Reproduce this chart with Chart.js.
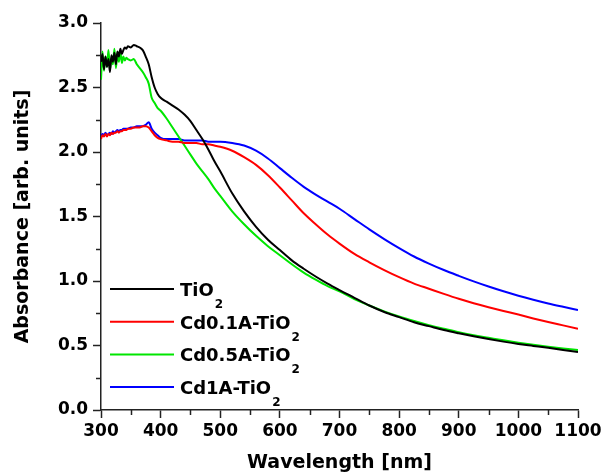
<!DOCTYPE html>
<html>
<head>
<meta charset="utf-8">
<script src="https://cdn.jsdelivr.net/npm/chart.js@4/dist/chart.umd.min.js"></script>
<style>
  html, body { margin: 0; padding: 0; background: #ffffff; }
  #wrap { width: 607px; height: 474px; }
</style>
</head>
<body>
<div id="wrap"><canvas id="c" width="607" height="474"></canvas></div>
<script>
// ---- data ----
const wavelengths = [300,302.5,305,307.5,310,312.5,315,317.5,320,322.5,325,327.5,330,332.5,335,337.5,340,342.5,345,
  350,355,360,365,370,375,380,385,390,395,400,
  410,420,430,440,450,460,470,480,490,500,
  520,540,560,580,600,620,640,660,680,700,
  725,750,775,800,825,850,875,900,925,950,975,1000,1025,1050,1075,1100];

const tio2 = [2.70,2.76,2.64,2.74,2.66,2.72,2.62,2.75,2.70,2.77,2.68,2.78,2.74,2.80,2.76,2.79,2.81,2.80,2.82,
  2.81,2.83,2.82,2.81,2.79,2.74,2.68,2.58,2.50,2.45,2.42,
  2.39,2.36,2.33,2.29,2.24,2.17,2.10,2.02,1.93,1.85,
  1.68,1.54,1.42,1.32,1.24,1.16,1.095,1.035,0.98,0.93,
  0.87,0.81,0.76,0.72,0.68,0.65,0.62,0.595,0.572,0.55,0.53,0.512,0.497,0.482,0.466,0.45];

const cd01 = [2.10,2.13,2.12,2.14,2.12,2.14,2.13,2.15,2.14,2.15,2.15,2.16,2.15,2.16,2.16,2.17,2.17,2.17,2.18,
  2.18,2.19,2.19,2.19,2.20,2.20,2.19,2.16,2.13,2.11,2.10,
  2.09,2.08,2.08,2.07,2.07,2.07,2.06,2.06,2.05,2.04,
  2.01,1.96,1.90,1.82,1.725,1.625,1.525,1.44,1.36,1.29,
  1.21,1.145,1.085,1.03,0.98,0.94,0.90,0.862,0.828,0.797,0.768,0.74,0.71,0.682,0.656,0.63];

const cd05 = [2.56,2.78,2.63,2.74,2.66,2.79,2.64,2.73,2.68,2.80,2.65,2.76,2.70,2.78,2.69,2.74,2.71,2.73,2.72,
  2.71,2.72,2.68,2.65,2.62,2.58,2.53,2.42,2.38,2.34,2.32,
  2.26,2.19,2.12,2.05,1.98,1.91,1.85,1.79,1.72,1.66,
  1.54,1.44,1.35,1.27,1.20,1.13,1.065,1.01,0.96,0.92,
  0.86,0.81,0.765,0.725,0.69,0.658,0.63,0.603,0.58,0.56,0.54,0.522,0.506,0.491,0.477,0.465];

const cd1 = [2.12,2.14,2.13,2.15,2.13,2.14,2.15,2.14,2.16,2.15,2.16,2.17,2.16,2.17,2.17,2.18,2.18,2.18,2.18,
  2.19,2.19,2.20,2.20,2.20,2.21,2.23,2.18,2.15,2.13,2.11,
  2.10,2.10,2.10,2.09,2.09,2.09,2.09,2.08,2.08,2.08,
  2.07,2.05,2.01,1.95,1.875,1.80,1.73,1.67,1.615,1.56,
  1.48,1.40,1.325,1.255,1.19,1.135,1.085,1.04,0.997,0.957,0.92,0.886,0.855,0.826,0.80,0.775];

const seriesLabels = ['TiO₂', 'Cd0.1A-TiO₂', 'Cd0.5A-TiO₂', 'Cd1A-TiO₂'];
const seriesColors = ['#000000', '#ff0000', '#00e600', '#0000ff'];
const xTickLabels = [300,400,500,600,700,800,900,1000,1100];
const yTickLabels = [0.0,0.5,1.0,1.5,2.0,2.5,3.0];

// ---- build ----
const seriesValues = [tio2, cd01, cd05, cd1];
const datasets = seriesValues.map((vals, i) => ({
  label: seriesLabels[i],
  data: wavelengths.map((w, k) => ({x: w, y: vals[k]})),
  borderColor: seriesColors[i],
  backgroundColor: seriesColors[i],
  borderWidth: 2,
  pointRadius: 0,
  tension: 0,
  cubicInterpolationMode: 'monotone',
  fill: false
}));

const TICK_FONT = {family: '"DejaVu Sans", sans-serif', size: 17, weight: 'bold'};
const TITLE_FONT = {family: '"DejaVu Sans", sans-serif', size: 19, weight: 'bold'};

function isMajorX(v) { return xTickLabels.includes(v); }
function isMajorY(v) { return yTickLabels.some(t => Math.abs(t - v) < 1e-6); }

const minorTicks = {
  id: 'minorTicks',
  afterDraw(chart) {
    const ctx = chart.ctx;
    const xs = chart.scales.x, ys = chart.scales.y;
    ctx.save();
    ctx.strokeStyle = '#222222';
    ctx.lineWidth = 1.5;
    xs.ticks.forEach(t => {
      if (!isMajorX(t.value)) {
        const px = Math.round(xs.getPixelForValue(t.value)) + 0.5;
        ctx.beginPath(); ctx.moveTo(px, xs.top); ctx.lineTo(px, xs.top + 5); ctx.stroke();
      }
    });
    ys.ticks.forEach(t => {
      if (!isMajorY(t.value)) {
        const py = Math.round(ys.getPixelForValue(t.value)) + 0.5;
        ctx.beginPath(); ctx.moveTo(ys.right, py); ctx.lineTo(ys.right - 5, py); ctx.stroke();
      }
    });
    ctx.restore();
  }
};

const subLegend = {
  id: 'subLegend',
  afterDraw(chart) {
    const ctx = chart.ctx;
    const area = chart.chartArea;
    const x0 = area.left + 9, x1 = area.left + 73, tx = area.left + 79;
    const rowStart = area.bottom - 121, rowGap = 32.7;
    ctx.save();
    chart.data.datasets.forEach((ds, i) => {
      const y = rowStart + i * rowGap;
      ctx.strokeStyle = ds.borderColor;
      ctx.lineWidth = 2;
      ctx.beginPath(); ctx.moveTo(x0, y); ctx.lineTo(x1, y); ctx.stroke();
      const parts = ds.label.split('₂');
      ctx.fillStyle = '#000000';
      ctx.textBaseline = 'alphabetic';
      ctx.textAlign = 'left';
      ctx.font = 'bold 18px "DejaVu Sans", sans-serif';
      ctx.fillText(parts[0], tx, y + 7);
      const w = ctx.measureText(parts[0]).width;
      ctx.font = 'bold 12px "DejaVu Sans", sans-serif';
      ctx.fillText('2', tx + w + 1, y + 19);
    });
    ctx.restore();
  }
};

new Chart(document.getElementById('c'), {
  type: 'line',
  data: { datasets },
  options: {
    responsive: false,
    animation: false,
    events: [],
    layout: { padding: { left: 0, right: 29, top: 23, bottom: 0 } },
    plugins: { legend: { display: false }, tooltip: { enabled: false } },
    scales: {
      x: {
        type: 'linear',
        min: 300, max: 1100,
        border: { display: true, color: '#222222', width: 1.5 },
        grid: {
          drawOnChartArea: false, drawTicks: true, tickLength: 8,
          tickColor: c => (c.tick && isMajorX(c.tick.value)) ? '#222222' : 'rgba(0,0,0,0)',
          tickWidth: 1.5
        },
        ticks: {
          stepSize: 50, autoSkip: false, maxRotation: 0, color: '#000000', font: TICK_FONT, padding: 3,
          callback: v => isMajorX(v) ? String(v) : ''
        },
        title: { display: true, text: 'Wavelength [nm]', color: '#000000', font: TITLE_FONT, padding: { top: 1, bottom: 0 } },
        afterFit(scale) { scale.height = 64; }
      },
      y: {
        type: 'linear',
        min: 0, max: 3,
        border: { display: true, color: '#222222', width: 1.5 },
        grid: {
          drawOnChartArea: false, drawTicks: true, tickLength: 8,
          tickColor: c => (c.tick && isMajorY(c.tick.value)) ? '#222222' : 'rgba(0,0,0,0)',
          tickWidth: 1.5
        },
        ticks: {
          stepSize: 0.25, autoSkip: false, color: '#000000', font: TICK_FONT, padding: 5,
          callback: v => isMajorY(v) ? Number(v).toFixed(1) : ''
        },
        title: { display: true, text: 'Absorbance [arb. units]', color: '#000000', font: TITLE_FONT, padding: { top: 12, bottom: 0 } },
        afterFit(scale) { scale.width = 101; }
      }
    }
  },
  plugins: [minorTicks, subLegend]
});
</script>
</body>
</html>
